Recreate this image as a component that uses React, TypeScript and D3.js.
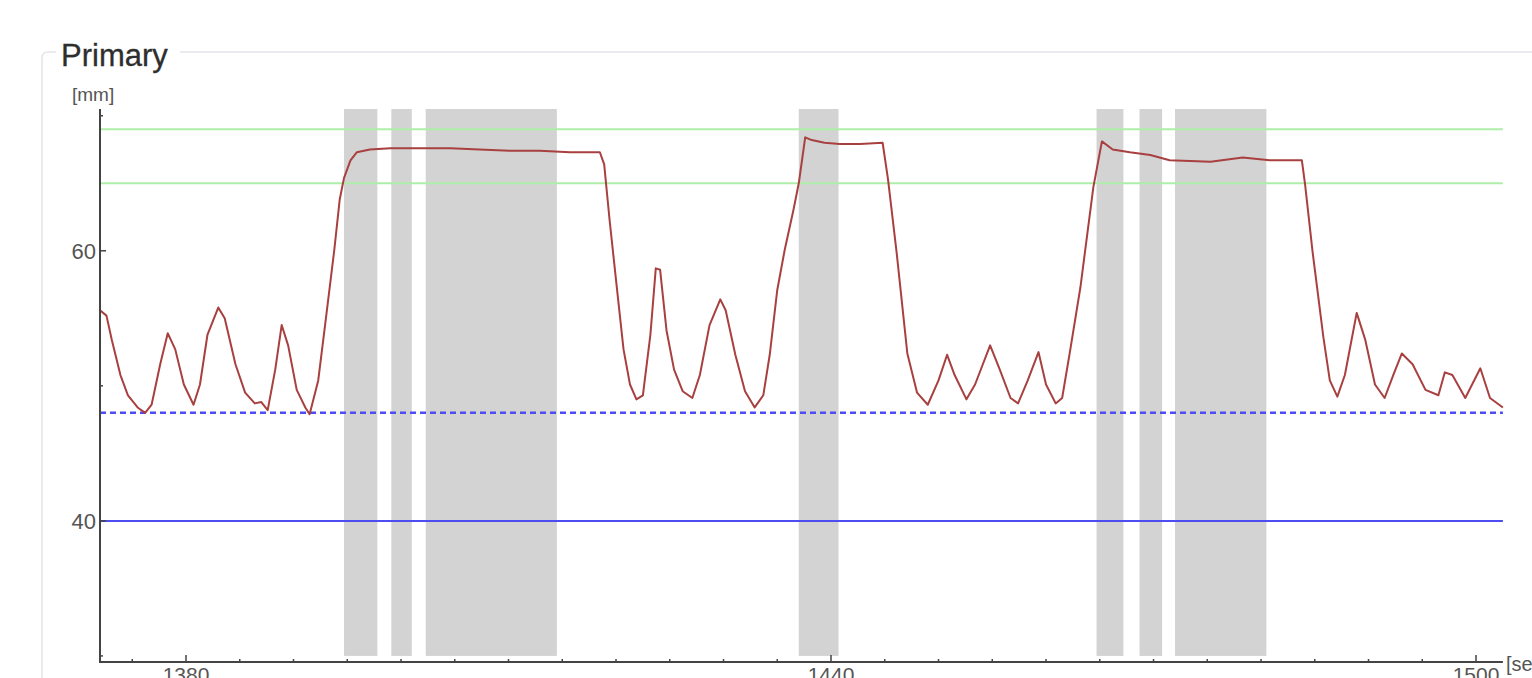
import React from 'react'
import * as d3 from 'd3'

// measured trace, [time s, position mm]
const times = [
  1372.0, 1372.6, 1373.1, 1373.9, 1374.6, 1375.5, 1376.2, 1376.8, 1377.6, 1378.3,
  1379.0, 1379.8, 1380.7, 1381.3, 1382.0, 1383.0, 1383.6, 1384.6, 1385.5, 1386.4,
  1387.0, 1387.6, 1388.3, 1388.9, 1389.5, 1390.3, 1391.1, 1391.5, 1392.3, 1393.0,
  1393.8, 1394.3, 1394.7, 1395.3, 1395.9, 1397.1, 1399.0, 1401.8, 1404.6, 1407.3,
  1410.1, 1412.9, 1415.7, 1418.5, 1418.9, 1419.4, 1420.1, 1420.7, 1421.3, 1421.9,
  1422.5, 1423.2, 1423.7, 1424.1, 1424.7, 1425.4, 1426.2, 1427.1, 1427.8, 1428.7,
  1429.7, 1430.2, 1431.1, 1432.0, 1432.9, 1433.7, 1434.3, 1435.0, 1435.7, 1436.5,
  1437.0, 1437.6, 1438.2, 1439.4, 1440.8, 1442.7, 1444.8, 1445.3, 1446.1, 1447.1,
  1448.0, 1449.0, 1450.0, 1450.8, 1451.5, 1452.6, 1453.4, 1454.8, 1455.7, 1456.7,
  1457.4, 1458.3, 1459.3, 1460.0, 1460.9, 1461.5, 1462.2, 1463.2, 1464.4, 1465.2,
  1466.2, 1467.8, 1469.7, 1471.5, 1475.3, 1478.3, 1480.8, 1483.8, 1484.1, 1484.8,
  1485.8, 1486.4, 1487.1, 1487.8, 1488.9, 1489.7, 1490.6, 1491.5, 1492.3, 1493.1,
  1494.1, 1495.3, 1496.5, 1497.1, 1497.8, 1499.0, 1500.4, 1501.3, 1502.5,
]
const positions = [
  55.6, 55.2, 53.4, 50.8, 49.3, 48.4, 48.0, 48.6, 51.6, 53.9,
  52.7, 50.1, 48.6, 50.1, 53.8, 55.8, 55.0, 51.6, 49.5, 48.7,
  48.8, 48.2, 51.2, 54.5, 53.0, 49.7, 48.4, 47.9, 50.4, 54.9,
  60.1, 63.8, 65.4, 66.7, 67.3, 67.5, 67.6, 67.6, 67.6, 67.5,
  67.4, 67.4, 67.3, 67.3, 66.4, 62.3, 57.1, 52.7, 50.1, 49.0,
  49.3, 53.8, 58.7, 58.6, 54.1, 51.2, 49.6, 49.1, 50.8, 54.5,
  56.4, 55.6, 52.3, 49.6, 48.4, 49.3, 52.3, 57.1, 60.1, 63.0,
  65.0, 68.4, 68.2, 68.0, 67.9, 67.9, 68.0, 65.3, 59.9, 52.4,
  49.5, 48.6, 50.4, 52.3, 50.8, 49.0, 50.1, 53.0, 51.2, 49.1,
  48.7, 50.4, 52.5, 50.1, 48.7, 49.1, 52.4, 57.3, 64.7, 68.1,
  67.5, 67.3, 67.1, 66.7, 66.6, 66.9, 66.7, 66.7, 64.9, 59.9,
  53.6, 50.4, 49.2, 50.8, 55.4, 53.4, 50.1, 49.1, 50.8, 52.4,
  51.6, 49.7, 49.3, 51.0, 50.8, 49.1, 51.3, 49.1, 48.4,
]

// shaded intervals [start, end]
const bandStarts = [1394.7, 1399.1, 1402.3, 1437.0, 1464.7, 1468.7, 1472.0]
const bandEnds = [1397.8, 1401.0, 1414.5, 1440.7, 1467.2, 1470.8, 1480.5]

const upperLimits = [69, 65]
const lowerWarn = 48
const lowerLimit = 40

const xMinor = d3.range(1375, 1501, 5)
const xMajor = [1380, 1440, 1500]
const yMinor = [30, 50, 70]
const yMajor = [40, 60]

export default function App() {
  const x = d3.scaleLinear().domain([1372, 1502.5]).range([100, 1502.9])
  const y = d3.scaleLinear().domain([29.55, 70.5]).range([662, 109])

  const line = d3.line<number>()
    .x((d, i) => x(times[i]))
    .y(d => y(d))

  const x0 = x(1372)
  const x1 = x(1502.5)

  return (
    <svg width={1532} height={678} style={{ position: 'absolute', left: 0, top: 0, background: '#fff' }}
      fontFamily="'Liberation Sans', Arial, sans-serif">
      {/* group frame */}
      <path d="M 56 52 L 48 52 Q 42 52 42 58 L 42 690 M 180 52 L 1540 52"
        fill="none" stroke="#e2e5ea" strokeWidth={1.5} />
      <text x={61} y={66} fontSize={31} fill="#2e2e2e" stroke="#2e2e2e" strokeWidth={0.3}>Primary</text>
      <text x={72} y={101} fontSize={19} fill="#555">[mm]</text>

      {bandStarts.map((s, i) => (
        <rect key={i} x={x(s)} y={y(70.5)} width={x(bandEnds[i]) - x(s)} height={y(30) - y(70.5)} fill="#d3d3d3" />
      ))}

      {upperLimits.map(v => (
        <line key={v} x1={x0} x2={x1} y1={y(v)} y2={y(v)} stroke="#aeeea8" strokeWidth={1.8} />
      ))}
      <line x1={x0} x2={x1} y1={y(lowerWarn)} y2={y(lowerWarn)} stroke="#4d4df2" strokeWidth={2.5} strokeDasharray="6,4" />
      <line x1={x0} x2={x1} y1={y(lowerLimit)} y2={y(lowerLimit)} stroke="#4d4df2" strokeWidth={2} />

      <path d={line(positions) || ''} fill="none" stroke="#a8403f" strokeWidth={2} strokeLinejoin="round" />

      {/* axes */}
      <line x1={x0} x2={x0} y1={y(70.5)} y2={662} stroke="#444" strokeWidth={2} />
      <line x1={x0 - 1} x2={x1} y1={662} y2={662} stroke="#444" strokeWidth={2} />
      {xMinor.map(t => (
        <line key={t} x1={x(t)} x2={x(t)} y1={662} y2={xMajor.includes(t) ? 655 : 659} stroke="#444" strokeWidth={1.5} />
      ))}
      {xMajor.map(t => (
        <text key={t} x={x(t)} y={682} fontSize={21} fill="#555" textAnchor="middle">{t}</text>
      ))}
      <text x={1506} y={671} fontSize={20} fill="#555">[sec]</text>
      {yMinor.map(v => (
        <line key={v} x1={x0} x2={x0 + 3} y1={y(v)} y2={y(v)} stroke="#444" strokeWidth={1.5} />
      ))}
      {yMajor.map(v => (
        <g key={v}>
          <line x1={x0} x2={x0 + 6} y1={y(v)} y2={y(v)} stroke="#444" strokeWidth={1.5} />
          <text x={96} y={y(v) + 8} fontSize={22} fill="#555" textAnchor="end">{v}</text>
        </g>
      ))}
    </svg>
  )
}
